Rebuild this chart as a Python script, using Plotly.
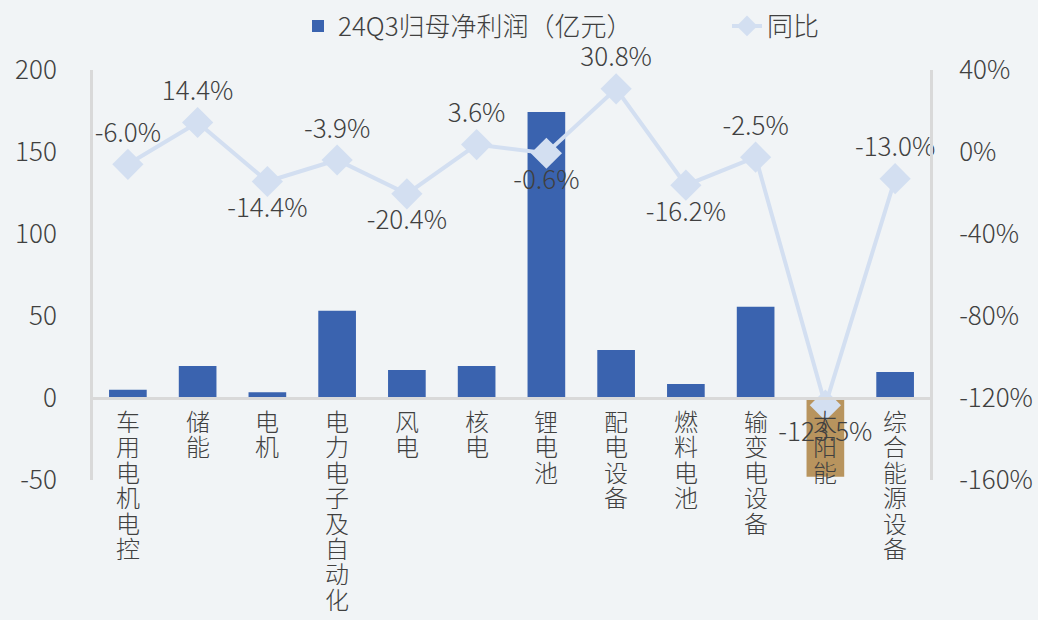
import plotly.graph_objects as go

categories = ["车用电机电控", "储能", "电机", "电力电子及自动化", "风电", "核电",
              "锂电池", "配电设备", "燃料电池", "输变电设备", "太阳能", "综合能源设备"]
profit = [5.0, 19.5, 3.5, 53.2, 17.0, 19.5, 174.4, 29.3, 8.5, 55.7, -48.0, 15.9]
yoy = [-6.0, 14.4, -14.4, -3.9, -20.4, 3.6, -0.6, 30.8, -16.2, -2.5, -123.5, -13.0]
yoy_pos = ["top center", "top center", "bottom center", "top center", "bottom center",
           "top center", "bottom center", "top center", "bottom center", "top center",
           "bottom center", "top center"]
left_ticks = [-50, 0, 50, 100, 150, 200]
left_labels = ["-50", "0", "50", "100", "150", "200"]
right_ticks = [-160, -120, -80, -40, 0, 40]
right_labels = ["-160%", "-120%", "-80%", "-40%", "0%", "40%"]

BLUE = "#3A63AF"
TAN = "#B8945E"
LINE = "#D3DFF1"
TXT = "#404040"
GRID = "#D9D9D9"
FONT = "Noto Sans CJK SC"

bar_colors = [TAN if v < 0 else BLUE for v in profit]

fig = go.Figure()
fig.add_trace(go.Bar(
    x=categories, y=profit, name="24Q3归母净利润（亿元）",
    marker=dict(color=bar_colors, line=dict(width=0)),
    width=0.54, yaxis="y", legend="legend",
))
fig.add_trace(go.Scatter(
    x=categories, y=yoy, name="同比", yaxis="y2", legend="legend2",
    mode="lines+markers+text",
    line=dict(color=LINE, width=4),
    marker=dict(symbol="diamond", size=24, color=LINE),
    text=[f"{v:.1f}%" for v in yoy],
    textposition=yoy_pos,
    cliponaxis=False,
    textfont=dict(family=FONT, size=26, color=TXT, weight=300),
))

# vertical (stacked) category labels under the zero line
annotations = []
for cat in categories:
    for i, ch in enumerate(cat):
        annotations.append(dict(
            x=cat, y=0, xref="x", yref="y", text=ch, showarrow=False,
            yanchor="top", xanchor="center", yshift=-8 - i * 25.4,
            height=25, valign="middle",
            font=dict(family=FONT, size=24, color=TXT, weight=300),
        ))

legend_common = dict(orientation="h", xanchor="left",
                     yref="container", y=1 - 26 / 620, yanchor="middle",
                     font=dict(family=FONT, size=26, color=TXT, weight=300),
                     bgcolor="rgba(0,0,0,0)")

fig.update_layout(
    width=1038, height=620,
    paper_bgcolor="#F1F4F6", plot_bgcolor="rgba(0,0,0,0)",
    margin=dict(l=93, r=108, t=70, b=140, autoexpand=False),
    font=dict(family=FONT, size=25, color=TXT, weight=300),
    showlegend=True,
    legend=dict(x=(298 - 93) / 837, **legend_common),
    legend2=dict(x=(727 - 93) / 837, **legend_common),
    annotations=annotations,
    xaxis=dict(
        type="category", anchor="free", position=0.2, automargin=False,
        range=[-0.5, len(categories) - 0.5],
        showline=True, linecolor=GRID, linewidth=3,
        ticks="", showgrid=False, showticklabels=False,
    ),
    yaxis=dict(
        range=[-50, 200], tickvals=left_ticks, ticktext=left_labels,
        showgrid=False, zeroline=False, automargin=False,
        showline=True, linecolor=GRID, linewidth=3, ticks="",
        ticklabelstandoff=28,
        tickfont=dict(family=FONT, size=26, color=TXT, weight=300),
    ),
    yaxis2=dict(
        range=[-160, 40], tickvals=right_ticks, ticktext=right_labels,
        overlaying="y", side="right", showgrid=False, zeroline=False, automargin=False,
        showline=True, linecolor=GRID, linewidth=3, ticks="",
        ticklabelstandoff=21,
        tickfont=dict(family=FONT, size=26, color=TXT, weight=300),
    ),
)

fig.write_html("out.html", config={"displayModeBar": False},
               post_script="document.body.style.margin='0';")
